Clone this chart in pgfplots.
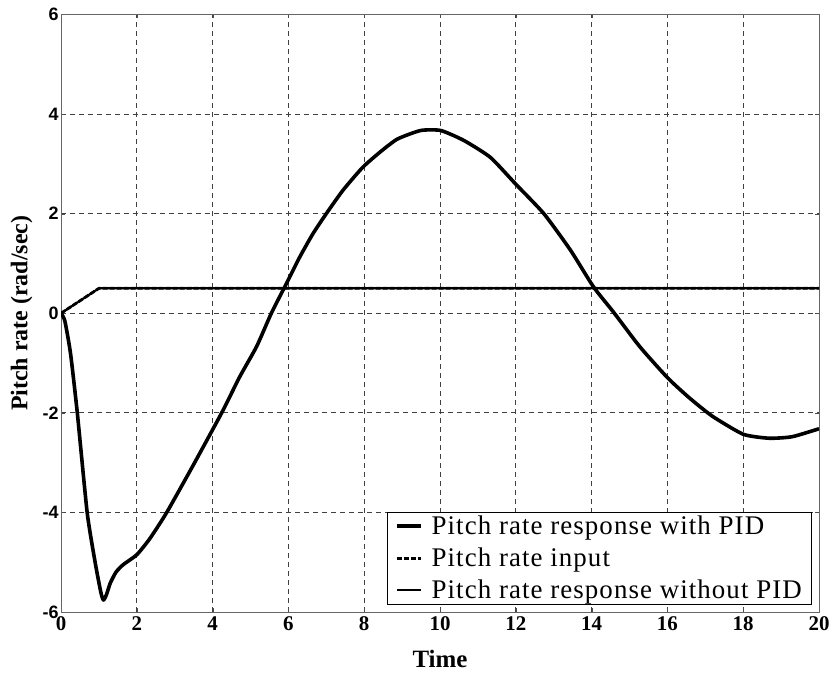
\documentclass[border=0pt]{standalone}
\usepackage{fontspec}
\setmainfont{Liberation Serif}
\newfontfamily\legfont[LetterSpace=4]{Liberation Serif}
\newfontfamily\sansb{Liberation Sans}
\usepackage{pgfplots}
\pgfplotsset{compat=1.18}
\begin{document}
\begin{tikzpicture}
\useasboundingbox (0,0) rectangle (837bp,688bp);
\begin{axis}[
  at={(61bp,76bp)}, anchor=south west,
  scale only axis, width=758bp, height=597.5bp,
  xmin=0, xmax=20, ymin=-6, ymax=6,
  xtick={0,2,...,20}, ytick={-6,-4,...,6},
  grid=major,
  major grid style={black!75, dash pattern=on 5bp off 4bp, line width=0.7bp},
  axis line style={black!60, line width=0.8bp},
  tick align=inside, major tick length=4bp,
  tick style={black!70},
  /pgf/number format/assume math mode=true,
  xticklabel style={font=\fontsize{21}{24}\selectfont\bfseries, yshift=-1bp},
  yticklabel style={font=\fontsize{18}{21}\sansb\bfseries, xshift=1bp},
  xlabel={Time},
  ylabel={Pitch rate (rad/sec)},
  xlabel style={font=\fontsize{25}{28}\selectfont\bfseries, at={(axis description cs:0.5,-0.078)}, anchor=center},
  ylabel style={font=\fontsize{24}{27}\selectfont\bfseries, at={(axis description cs:-0.052,0.5)}, anchor=center},
  legend style={at={(axis description cs:0.991,0.012)}, anchor=south east,
    draw=black, line width=0.8bp, fill=white,
    font=\fontsize{27}{30}\legfont, inner xsep=8bp, inner ysep=2bp, row sep=8bp,
    /tikz/every odd column/.append style={column sep=7bp}},
  legend cell align=left,
  legend image code/.code={\draw[#1] (0cm,0cm) -- (0.85cm,0cm);},
]
\addplot[black, line width=3.6bp, line join=round, smooth, tension=0.35] coordinates {
(0,0) (0.1,-0.15) (0.25,-0.8) (0.43,-2.0) (0.69,-4.0) (0.9,-5.0) (1.05,-5.6)
(1.12,-5.76) (1.2,-5.65) (1.3,-5.42) (1.45,-5.2) (1.64,-5.05) (2.0,-4.85)
(2.35,-4.52) (2.79,-4.0) (3.49,-3.05) (4.24,-2.0) (4.72,-1.27) (5.16,-0.67)
(5.55,0) (5.95,0.6) (6.3,1.13) (6.65,1.6) (7.0,2.0) (7.44,2.47) (7.96,2.93)
(8.44,3.25) (8.88,3.5) (9.49,3.67) (10.02,3.67) (10.63,3.47) (11.33,3.13)
(11.99,2.6) (12.74,2.0) (13.44,1.27) (14.05,0.53) (14.57,0.03) (15.27,-0.67)
(16.01,-1.3) (16.58,-1.7) (17.19,-2.07) (18.0,-2.43) (18.68,-2.51)
(19.29,-2.48) (20,-2.32)
};
\addlegendentry{Pitch rate response with PID}
\addplot[black, line width=2.8bp, dash pattern=on 5bp off 2bp] coordinates {
(0,0) (1,0.5) (20,0.5)
};
\addlegendentry{Pitch rate input}
\addplot[black, line width=2.2bp] coordinates {
(0,0) (1,0.5) (20,0.5)
};
\addlegendentry{Pitch rate response without PID}
\end{axis}
\end{tikzpicture}
\end{document}
